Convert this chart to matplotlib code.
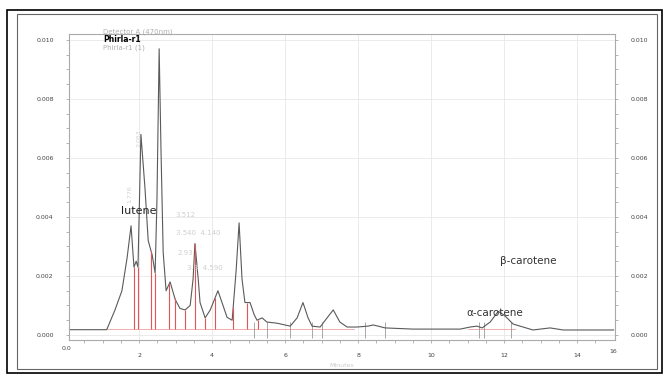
import numpy as np
import matplotlib.pyplot as plt
from matplotlib.patches import Rectangle

# retention time (min) and detector signal
rt = [0.1, 1.1, 1.12, 1.34, 1.53, 1.67, 1.78, 1.86, 1.92, 1.97, 2.05, 2.16, 2.25, 2.36,
      2.44, 2.49, 2.55, 2.60, 2.66, 2.74, 2.85, 2.99, 3.12, 3.26, 3.40, 3.48, 3.53, 3.62,
      3.67, 3.81, 3.95, 4.16, 4.30, 4.41, 4.55, 4.66, 4.74, 4.82, 4.90, 5.04, 5.15, 5.23,
      5.37, 5.50, 5.78, 6.14, 6.33, 6.49, 6.63, 6.74, 6.96, 7.15, 7.32, 7.50, 7.70, 7.97,
      8.27, 8.41, 8.55, 8.74, 9.50, 10.80, 11.07, 11.26, 11.40, 11.62, 11.84, 11.97, 12.08,
      12.25, 12.52, 12.79, 13.26, 13.62, 15.0]
signal = [0.00018, 0.00018, 0.0002, 0.00085, 0.0015, 0.0026, 0.0037, 0.0023, 0.0025, 0.0023,
          0.0068, 0.0050, 0.0032, 0.0027, 0.0021, 0.0046, 0.0097, 0.0063, 0.0028, 0.0015,
          0.0018, 0.0012, 0.0009, 0.00085, 0.0010, 0.0019, 0.0031, 0.0019, 0.0011, 0.00058,
          0.00085, 0.0015, 0.0010, 0.0006, 0.0005, 0.0022, 0.0038, 0.0019, 0.0011, 0.0011,
          0.0007, 0.0005, 0.00058, 0.00044, 0.0004, 0.0003, 0.00058, 0.0011, 0.00058, 0.0003,
          0.00027, 0.00058, 0.00085, 0.00044, 0.00027, 0.00027, 0.0003, 0.00034, 0.0003,
          0.00024, 0.0002, 0.0002, 0.00027, 0.0003, 0.00024, 0.00044, 0.0008, 0.0007, 0.00058,
          0.00037, 0.00027, 0.00017, 0.00024, 0.00017, 0.00017]

# integration marks
red_marks = [1.86, 1.97, 2.33, 2.44, 2.82, 2.98, 3.26, 3.53, 3.81, 4.08, 4.58, 4.95, 5.26]
dark_marks = [5.15, 5.50, 6.14, 6.74, 7.0, 8.2, 8.74, 11.3, 11.45, 12.2]

xticks = [2, 4, 6, 8, 10, 12, 14]
yticks = [0.0, 0.002, 0.004, 0.006, 0.008, 0.010]

fig = plt.figure(figsize=(6.68, 3.75), dpi=100)
ax = fig.add_axes([0.1033, 0.0933, 0.8174, 0.816])

ax.grid(True, color='#e8e8e8', lw=0.6)
ax.set_axisbelow(True)

# pink baselines under integrated peaks
ax.plot([1.12, 7.9], [0.0002, 0.0002], color='#f0a0a0', lw=0.6)
ax.plot([11.0, 12.3], [0.0002, 0.0002], color='#f0a0a0', lw=0.6)

sig_at_red = np.interp(red_marks, rt, signal)
ax.vlines(red_marks, 0.0002, sig_at_red, color='#e05555', lw=0.8, zorder=3)
ax.vlines(dark_marks, -0.0001, 0.00045, color='#999999', lw=0.6)

ax.plot(rt, signal, color='#5a5a5a', lw=0.8, zorder=2)

ax.set_xlim(0.08, 15.04)
ax.set_ylim(-0.00017, 0.0102)
ax.set_xticks(xticks)
ax.set_xticklabels([str(v) for v in xticks])
ax.set_xticks(np.arange(0.5, 15, 0.5), minor=True)
ax.set_yticks(yticks)
ax.set_yticklabels(['%.3f' % v for v in yticks])
ax.set_yticks(np.arange(0, 0.0102, 0.0005), minor=True)
ax.tick_params(axis='both', which='both', labelsize=4.5, colors='#999999',
               labelcolor='#444444', length=2, width=0.5, right=True,
               labelright=True, pad=9)
ax.tick_params(axis='x', pad=7)
for s in ax.spines.values():
    s.set_color('#aaaaaa')
    s.set_linewidth(0.8)

ax.text(0.0, -0.00045, '0.0', fontsize=4.5, color='#444444', ha='center', va='center')
ax.text(15.0, -0.00055, '16', fontsize=4.5, color='#444444', ha='center', va='center')
ax.set_xlabel('Minutes', fontsize=4.5, color='#cccccc', labelpad=4)

# peak names
ax.text(1.98, 0.0042, 'lutene', fontsize=8, color='#222222', ha='center', va='center')
ax.text(11.75, 0.00075, 'α-carotene', fontsize=7.5, color='#333333', ha='center', va='center')
ax.text(12.65, 0.0025, 'β-carotene', fontsize=7.5, color='#333333', ha='center', va='center')

# faint retention-time labels
faint = '#cfcfcf'
ax.text(2.0, 0.0064, '2.053', fontsize=4.5, color=faint, rotation=90, ha='center')
ax.text(1.75, 0.0045, '1.776', fontsize=4.5, color=faint, rotation=90, ha='center')
ax.text(3.0, 0.0040, '3.512', fontsize=5, color=faint)
ax.text(3.0, 0.0034, '3.540  4.140', fontsize=5, color=faint)
ax.text(3.05, 0.0027, '2.93', fontsize=5, color=faint)
ax.text(3.3, 0.0022, '3.3  4.590', fontsize=5, color=faint)

fig.text(103 / 668, 1 - 32 / 375, 'Detector A (470nm)', fontsize=5, color='#b0b0b0', va='center')
fig.text(103 / 668, 1 - 40 / 375, 'Phirla-r1', fontsize=5.5, color='black', weight='bold', va='center')
fig.text(103 / 668, 1 - 48 / 375, 'Phirla-r1 (1)', fontsize=5, color='#b0b0b0', va='center')

# double frame around the picture
fig.patches.append(Rectangle((7 / 668, 1 - 373 / 375), 655 / 668, 363 / 375,
                             transform=fig.transFigure, fill=False, ec='black', lw=1.2))
fig.patches.append(Rectangle((17 / 668, 1 - 369 / 375), 640 / 668, 355 / 375,
                             transform=fig.transFigure, fill=False, ec='#666666', lw=0.8))

fig.savefig('out.png', dpi=100)
